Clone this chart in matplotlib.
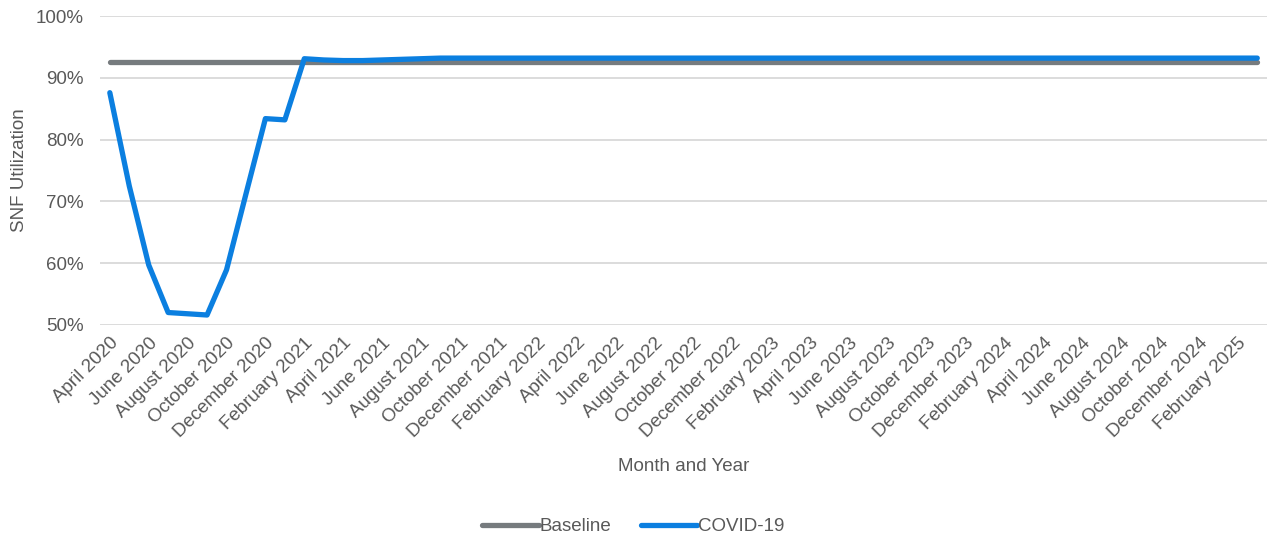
import matplotlib.pyplot as plt
import pandas as pd

plt.rcParams['font.family'] = ['Liberation Sans', 'DejaVu Sans']

# monthly utilization, April 2020 - March 2025
months = pd.date_range('2020-04-01', '2025-03-01', freq='MS')
month_labels = [d.strftime('%B %Y') for d in months]

baseline = [92.6] * len(months)
covid = [87.6, 72.5, 59.7, 52.0, 51.8, 51.6, 58.9, 71.2, 83.4, 83.2,
         93.1, 92.9, 92.8, 92.8, 92.9, 93.0, 93.1, 93.2] + [93.2] * (len(months) - 18)

text_col = '#595959'
fs = 13.5
fig = plt.figure(figsize=(12.67, 5.37), dpi=100)
ax = fig.add_axes([0.079, 0.395, 0.921, 0.575])

x = range(len(months))
ax.plot(x, baseline, color='#767B7E', lw=3.8, solid_capstyle='round', label='Baseline', zorder=3)
ax.plot(x, covid, color='#0B7FE0', lw=3.8, solid_capstyle='round', label='COVID-19', zorder=4)

ax.set_ylim(50, 100)
ax.set_xlim(-0.5, len(months) - 0.5)
ax.set_yticks(range(50, 101, 10))
ax.set_yticklabels([f'{v}%' for v in range(50, 101, 10)])
ax.set_xticks(list(x)[::2])
ax.set_xticklabels(month_labels[::2], rotation=45, ha='right', rotation_mode='anchor')

ax.grid(axis='y', color='#D9D9D9', lw=1.3)
ax.set_axisbelow(True)
for s in ax.spines.values():
    s.set_visible(False)
ax.tick_params(length=0, labelsize=fs, colors=text_col, pad=7)
ax.tick_params(axis='y', pad=12)

ax.set_ylabel('SNF Utilization', fontsize=fs, color=text_col, labelpad=5)
ax.set_xlabel('Month and Year', fontsize=fs, color=text_col, labelpad=12)

fig.legend(loc='lower center', bbox_to_anchor=(0.5, -0.028), ncol=2, frameon=False,
           fontsize=fs, labelcolor=text_col, handlelength=3.0, handletextpad=0.05,
           columnspacing=1.6)

fig.savefig('out.png', dpi=100)
